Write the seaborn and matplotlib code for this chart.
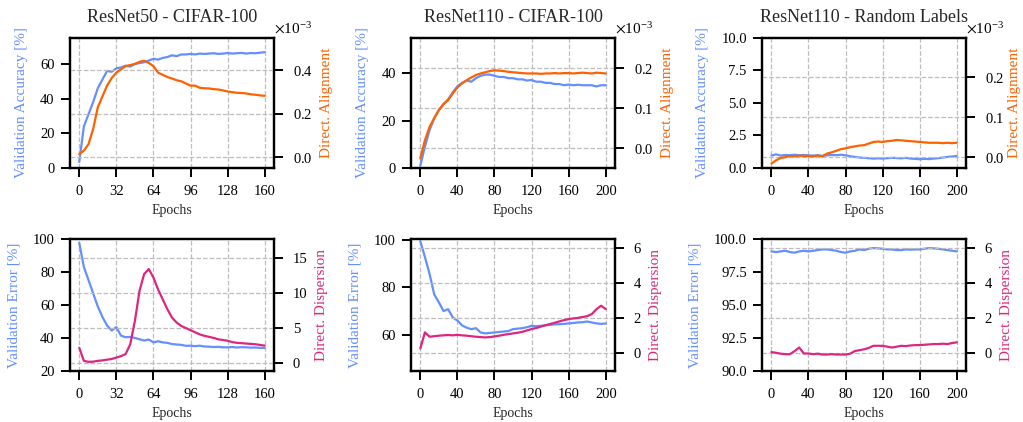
import matplotlib
matplotlib.use("Agg")
import matplotlib.pyplot as plt
import numpy as np
import pandas as pd
import seaborn as sns

# --------------------
# data
# --------------------
ep160 = list(range(0, 161, 4))
ep200 = list(range(0, 201, 5))

# ResNet50 - CIFAR-100
r50_acc = [3.5, 24, 31, 38, 46, 51, 56, 55.5, 57.5, 58, 59, 58.5, 60, 60.5, 61, 62, 63, 62.5, 63.5, 64,
           65, 64.5, 65.5, 65.5, 65.8, 65.5, 66, 65.8, 66, 66.2, 65.8, 66, 66.3, 66, 66.2, 66.4, 66, 66.3,
           66.2, 66.5, 66.8]
r50_align = [0.014, 0.03, 0.06, 0.13, 0.23, 0.28, 0.33, 0.365, 0.39, 0.405, 0.42, 0.425, 0.43, 0.44, 0.445,
             0.435, 0.42, 0.39, 0.38, 0.37, 0.363, 0.355, 0.35, 0.34, 0.33, 0.33, 0.32, 0.318, 0.317, 0.314,
             0.312, 0.308, 0.303, 0.30, 0.297, 0.296, 0.294, 0.29, 0.288, 0.285, 0.283]
r50_err = [97.5, 83, 75, 67, 59, 52.7, 47.5, 44.5, 46.5, 41.4, 40.4, 40.6, 40, 39.2, 38.4, 39, 37.3, 38,
           37.3, 37, 36.3, 36, 35.8, 35.2, 35.3, 35, 35.3, 34.8, 34.7, 34.5, 34.6, 34.3, 34.3, 34.5, 34.2,
           34.4, 34.3, 34.1, 34.2, 34, 33.9]
r50_disp = [2.2, 0.33, 0.2, 0.22, 0.33, 0.4, 0.5, 0.6, 0.8, 1.0, 1.3, 2.7, 6.0, 10.3, 12.7, 13.4, 12.2,
            10.5, 9.1, 7.7, 6.5, 5.8, 5.3, 5.0, 4.7, 4.4, 4.1, 3.9, 3.75, 3.6, 3.4, 3.3, 3.2, 3.0, 2.9,
            2.85, 2.8, 2.75, 2.7, 2.6, 2.5]

# ResNet110 - CIFAR-100
r110_acc = [1, 9, 16, 21, 24.5, 27, 29, 32, 34.5, 36, 37, 36.5, 38, 39, 39.5, 39.5, 39, 38.5, 38.5, 38,
            38, 37.5, 37.5, 37, 37.2, 36.5, 36.5, 36, 36, 35.5, 35.5, 35, 35.3, 35, 35.2, 35, 35, 35, 34.5,
            35, 35]
r110_align = [-0.026, 0.02, 0.053, 0.075, 0.095, 0.11, 0.12, 0.137, 0.152, 0.162, 0.17, 0.177, 0.183,
              0.187, 0.19, 0.193, 0.195, 0.194, 0.193, 0.191, 0.19, 0.189, 0.188, 0.187, 0.187, 0.187,
              0.186, 0.187, 0.187, 0.188, 0.187, 0.188, 0.188, 0.187, 0.188, 0.189, 0.188, 0.187, 0.189,
              0.188, 0.187]
r110_err = [99.4, 92.7, 85.6, 77, 73.7, 70, 70.8, 67.3, 66, 64, 63, 62.4, 62.8, 61, 60.6, 60.8, 61, 61.2,
            61.4, 61.6, 62.4, 62.6, 62.8, 63.2, 63.8, 63.6, 63.8, 64, 64.2, 64.4, 64.5, 64.6, 64.8, 65,
            65.2, 65.3, 65.6, 65.2, 64.8, 64.6, 64.8]
r110_disp = [0.25, 1.17, 0.92, 0.95, 0.98, 1.0, 1.02, 1.0, 1.03, 1.0, 0.98, 0.95, 0.92, 0.9, 0.88, 0.9,
             0.94, 0.98, 1.03, 1.07, 1.11, 1.15, 1.2, 1.28, 1.36, 1.42, 1.5, 1.58, 1.65, 1.72, 1.8, 1.87,
             1.93, 1.97, 2.0, 2.05, 2.1, 2.22, 2.5, 2.7, 2.5]

# ResNet110 - Random Labels
rnd_acc = [0.95, 1.05, 0.95, 1.0, 0.98, 1.02, 0.97, 1.0, 0.97, 0.95, 0.98, 0.93, 0.97, 1.0, 0.98, 1.02,
           0.97, 0.9, 0.85, 0.8, 0.78, 0.75, 0.72, 0.74, 0.72, 0.75, 0.78, 0.76, 0.74, 0.78, 0.72, 0.7,
           0.67, 0.7, 0.68, 0.72, 0.75, 0.8, 0.85, 0.88, 0.92]
rnd_align = [-0.016, -0.008, -0.002, 0.0, 0.003, 0.002, 0.004, 0.003, 0.003, 0.002, 0.004, 0.002, 0.009,
             0.012, 0.016, 0.02, 0.022, 0.025, 0.027, 0.029, 0.03, 0.034, 0.038, 0.039, 0.038, 0.04,
             0.041, 0.043, 0.042, 0.041, 0.04, 0.039, 0.038, 0.037, 0.036, 0.036, 0.036, 0.035, 0.036,
             0.035, 0.036]
rnd_err = [99.05, 99.0, 99.05, 99.1, 99.0, 98.95, 99.05, 99.1, 99.05, 99.1, 99.15, 99.2, 99.2, 99.15,
           99.1, 99.0, 98.95, 99.05, 99.1, 99.2, 99.15, 99.25, 99.3, 99.28, 99.25, 99.2, 99.2, 99.15,
           99.15, 99.2, 99.18, 99.2, 99.2, 99.25, 99.3, 99.28, 99.25, 99.2, 99.15, 99.1, 99.05]
rnd_disp = [0.04, 0.0, -0.05, -0.08, -0.08, 0.1, 0.3, -0.04, -0.04, -0.08, -0.05, -0.1, -0.1, -0.08,
            -0.1, -0.1, -0.1, -0.05, 0.1, 0.15, 0.2, 0.28, 0.4, 0.4, 0.4, 0.35, 0.3, 0.35, 0.4, 0.38,
            0.42, 0.44, 0.44, 0.46, 0.48, 0.5, 0.5, 0.52, 0.5, 0.56, 0.6]

titles = ["ResNet50 - CIFAR-100", "ResNet110 - CIFAR-100", "ResNet110 - Random Labels"]

BLUE = "#648FFF"
ORANGE = "#FE6100"
MAGENTA = "#DC267F"

sns.set_theme(style="ticks")
plt.rcParams["font.family"] = ["Liberation Serif", "DejaVu Serif"]
plt.rcParams["mathtext.fontset"] = "stix"
plt.rcParams["axes.linewidth"] = 1.6
plt.rcParams["xtick.major.width"] = 1.4
plt.rcParams["ytick.major.width"] = 1.4
plt.rcParams["xtick.major.size"] = 6.5
plt.rcParams["ytick.major.size"] = 6.5
plt.rcParams["xtick.major.pad"] = 6
plt.rcParams["ytick.major.pad"] = 4.5
plt.rcParams["xtick.labelsize"] = 10.5
plt.rcParams["ytick.labelsize"] = 10.5
plt.rcParams["axes.edgecolor"] = "black"


def panel(rect, x, left, right, lcol, rcol, lname, rname, xticks, lylim, lyticks, rylim, ryticks,
          title=None, sci=False, rpad=5.5):
    ax = fig.add_axes(rect)
    df = pd.DataFrame({"epoch": x, "left": left, "right": right})
    sns.lineplot(data=df, x="epoch", y="left", color=lcol, lw=1.6, ax=ax)
    ax.set_xticks(xticks)
    ax.set_ylim(*lylim)
    ax.set_yticks(lyticks)
    ax.set_ylabel(lname, color=lcol, fontsize=11, labelpad=9)
    ax.set_xlabel("Epochs", fontsize=10)
    ax.grid(axis="x", ls="--", color="#bdbdbd", lw=0.9)
    if title:
        ax.set_title(title, fontsize=13, y=1.0, pad=11.5)

    ax2 = ax.twinx()
    sns.lineplot(data=df, x="epoch", y="right", color=rcol, lw=1.6, ax=ax2)
    ax2.set_ylim(*rylim)
    ax2.set_yticks(ryticks)
    ax2.set_ylabel(rname, color=rcol, fontsize=11, labelpad=rpad)
    ax2.grid(axis="y", ls="--", color="#bdbdbd", lw=0.9)
    ax2.tick_params(axis="y", pad=7)
    if sci:
        ax2.ticklabel_format(axis="y", style="sci", scilimits=(-3, -3), useMathText=True)
        off = ax2.yaxis.get_offset_text()
        off.set_fontsize(11)
        off.set_ha("left")
    for a in (ax, ax2):
        a.tick_params(direction="out", colors="black")
        for s in a.spines.values():
            s.set_visible(True)
            s.set_linewidth(1.6)
    return ax, ax2


fig = plt.figure(figsize=(10.23, 4.22), dpi=100)
lefts = [0.0684, 0.4018, 0.745]
w = 0.1994
top_row = (0.602, 0.308)
bot_row = (0.121, 0.313)

e3 = 1e-3
panel([lefts[0], top_row[0], w, top_row[1]], ep160, r50_acc, [v * e3 for v in r50_align], BLUE, ORANGE,
      "Validation Accuracy [%]", "Direct. Alignment", range(0, 161, 32), (0, 75), [0, 20, 40, 60],
      (-0.05e-3, 0.55e-3), [0, 0.2e-3, 0.4e-3], titles[0], sci=True)
panel([lefts[1], top_row[0], w, top_row[1]], ep200, r110_acc, [v * e3 for v in r110_align], BLUE, ORANGE,
      "Validation Accuracy [%]", "Direct. Alignment", range(0, 201, 40), (0, 55), [0, 20, 40],
      (-0.05e-3, 0.276e-3), [0, 0.1e-3, 0.2e-3], titles[1], sci=True)
panel([lefts[2], top_row[0], w, top_row[1]], ep200, rnd_acc, [v * e3 for v in rnd_align], BLUE, ORANGE,
      "Validation Accuracy [%]", "Direct. Alignment", range(0, 201, 40), (0, 10), [0, 2.5, 5, 7.5, 10],
      (-0.027e-3, 0.298e-3), [0, 0.1e-3, 0.2e-3], titles[2], sci=True, rpad=2.5)

panel([lefts[0], bot_row[0], w, bot_row[1]], ep160, r50_err, r50_disp, BLUE, MAGENTA,
      "Validation Error [%]", "Direct. Dispersion", range(0, 161, 32), (20, 100), [20, 40, 60, 80, 100],
      (-1.1, 17.7), [0, 5, 10, 15])
panel([lefts[1], bot_row[0], w, bot_row[1]], ep200, r110_err, r110_disp, BLUE, MAGENTA,
      "Validation Error [%]", "Direct. Dispersion", range(0, 201, 40), (44.8, 100.4), [60, 80, 100],
      (-1.04, 6.53), [0, 2, 4, 6])
panel([lefts[2], bot_row[0], w, bot_row[1]], ep200, rnd_err, rnd_disp, BLUE, MAGENTA,
      "Validation Error [%]", "Direct. Dispersion", range(0, 201, 40), (90, 100), [90, 92.5, 95, 97.5, 100],
      (-1.04, 6.53), [0, 2, 4, 6])

fig.savefig("out.png", dpi=100)
